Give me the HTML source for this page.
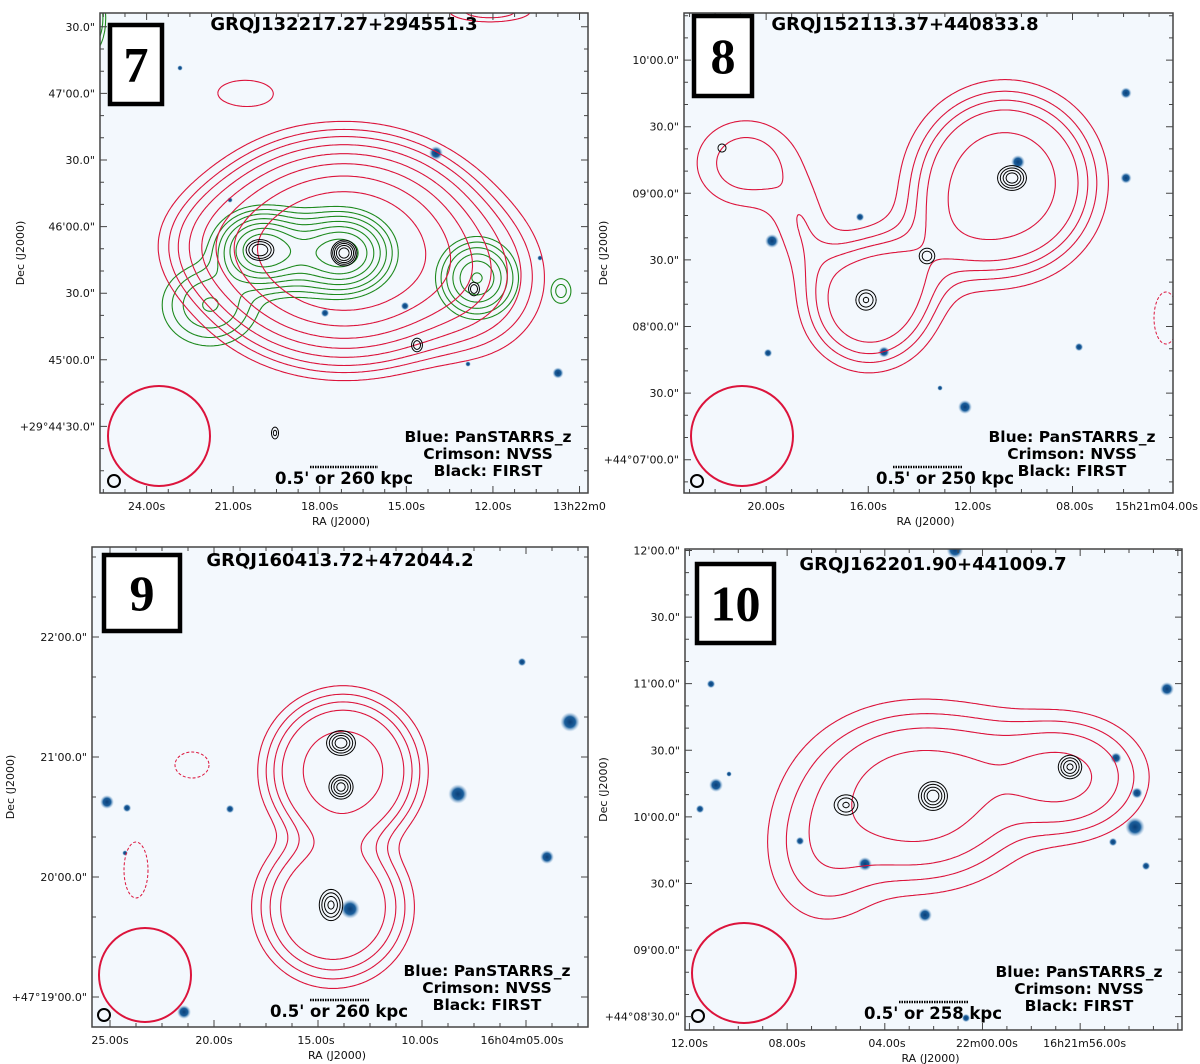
<!DOCTYPE html>
<html><head><meta charset="utf-8"><style>
html,body{margin:0;padding:0;background:#fff}
svg{display:block}
text{font-family:"DejaVu Sans","Liberation Sans",sans-serif}
</style></head><body>
<svg id="fig" width="1200" height="1064" viewBox="0 0 1200 1064" xmlns="http://www.w3.org/2000/svg"></svg>
<script>
// ---------- data ----------
const panelIds = ["7","8","9","10"];
const panelTitles = ["GRQJ132217.27+294551.3","GRQJ152113.37+440833.8","GRQJ160413.72+472044.2","GRQJ162201.90+441009.7"];
const scaleTexts = ["0.5' or 260 kpc","0.5' or 250 kpc","0.5' or 260 kpc","0.5' or 258 kpc"];
const yTickLabels7 = ["30.0\"","47'00.0\"","30.0\"","46'00.0\"","30.0\"","45'00.0\"","+29°44'30.0\""];
const yTickVals7 = [210,180,150,120,90,60,30];
const xTickLabels7 = ["24.00s","21.00s","18.00s","15.00s","12.00s","13h22m0"];
const xTickVals7 = [21,60,99,138,177,216];
const yTickLabels8 = ["10'00.0\"","30.0\"","09'00.0\"","30.0\"","08'00.0\"","30.0\"","+44°07'00.0\""];
const yTickVals8 = [195,165,135,105,75,45,15];
const xTickLabels8 = ["20.00s","16.00s","12.00s","08.00s","15h21m04.00s"];
const xTickVals8 = [37,83,130,176,222];
const yTickLabels9 = ["22'00.0\"","21'00.0\"","20'00.0\"","+47°19'00.0\""];
const yTickVals9 = [195,135,75,15];
const xTickLabels9 = ["25.00s","20.00s","15.00s","10.00s","16h04m05.00s"];
const xTickVals9 = [9,61,112,164,215];
const yTickLabels10 = ["12'00.0\"","30.0\"","11'00.0\"","30.0\"","10'00.0\"","30.0\"","09'00.0\"","+44°08'30.0\""];
const yTickVals10 = [216,186,156,126,96,66,36,6];
const xTickLabels10 = ["12.00s","08.00s","04.00s","22m00.00s","16h21m56.00s"];
const xTickVals10 = [2,46,91,136,180];

// radio components: [x, y, amp, sx, sy, p]
const nvss7 = [[244,238,1,72,55,2.4],[140,232,0.1,40,30,2],[370,268,0.1,40,40,2],[145,80,0.03,30,14,2],[390,-2,0.05,30,8,2]];
const nvssLevels7 = [0.02,0.035,0.055,0.088,0.14,0.22,0.35,0.55];
const tgss7 = [[160,237,1,22,19,2],[244,240,0.9,24,20,2],[110,292,0.3,28,24,2],[200,240,0.35,25,22,2],[377,265,0.6,20,20,2],[461,278,0.15,8,10,2],[-8,5,0.3,8,20,2]];
const tgssLevels7 = [0.07,0.12,0.19,0.29,0.42,0.58,0.78];
const first7 = [[244,240,1,6,6,2],[160,237,0.45,8,6,2],[374,276,0.25,4,5,2],[317,332,0.25,4,5,2],[175,420,0.2,3,5,2]];
const firstLevels7 = [0.1,0.17,0.28,0.45,0.7];

const nvss8 = [[321,170,1,75,75,3],[185,290,0.75,55,55,3],[250,240,0.2,40,40,2],[62,150,0.5,44,38,2],[118,215,0.32,22,34,2]];
const nvssLevels8 = [0.27,0.4,0.51,0.63,0.86];
const first8 = [[328,165,1,7,6,2],[243,243,0.4,5,5,2],[182,287,0.5,6,6,2],[38,135,0.2,4,4,2]];
const firstLevels8 = [0.12,0.25,0.45,0.7];
const neg8 = [[482,305,12,26]];

const nvss9 = [[251,224,1,52,52,3],[241,360,0.75,52,52,3]];
const nvssLevels9 = [0.11,0.2,0.31,0.45,0.8];
const first9 = [[249,196,1,7,6,2],[249,240,0.9,6,6,2],[239,358,0.8,6,8,2]];
const firstLevels9 = [0.12,0.25,0.45,0.7];
const neg9 = [[100,218,17,13],[44,323,12,28]];

const nvss10 = [[231,248,1,55,42,2],[377,228,0.75,40,30,2],[140,305,0.22,35,42,2],[300,215,0.15,40,30,2]];
const nvssLevels10 = [0.07,0.15,0.28,0.58];
const first10 = [[248,247,1,7,7,2],[385,218,0.8,6,6,2],[161,256,0.5,7,6,2]];
const firstLevels10 = [0.12,0.25,0.45,0.7];

const stars7 = [[336,140,5],[440,245,2],[305,293,3],[458,360,4],[368,351,2],[225,300,3],[130,187,2],[80,55,2]];
const stars8 = [[88,228,5],[334,149,5],[281,394,5],[200,339,4],[442,80,4],[442,165,4],[256,375,2],[395,334,3],[176,204,3],[84,340,3]];
const stars9 = [[366,247,7],[258,362,7],[478,175,7],[15,255,5],[35,261,3],[455,310,5],[92,465,5],[138,262,3],[33,306,2],[430,115,3]];
const stars10 = [[482,140,5],[270,1,6],[60,46,3],[26,135,3],[240,366,5],[281,469,3],[431,209,4],[452,244,4],[450,278,7],[428,293,3],[461,317,3],[31,236,5],[180,315,5],[44,225,2],[115,292,3],[15,260,3]];

const panels = [
 {box:[100,13,488,480], ppa:2.22, yl:yTickLabels7, yv:yTickVals7, xl:xTickLabels7, xv:xTickVals7, nv:nvss7, nl:nvssLevels7, tg:tgss7, tl:tgssLevels7, fi:first7, fl:firstLevels7, neg:[], stars:stars7,
  num:[108,23,56,83], beam:[159,436,51,50], sb:[114,481], leg:[488,437], sc:[344,478,310,378], titleX:344, titleY:30, decX:24},
 {box:[684,13,489,480], ppa:2.22, yl:yTickLabels8, yv:yTickVals8, xl:xTickLabels8, xv:xTickVals8, nv:nvss8, nl:nvssLevels8, fi:first8, fl:firstLevels8, neg:neg8, stars:stars8,
  num:[692,14,62,84], beam:[742,436,51,50], sb:[697,481], leg:[1072,437], sc:[945,478,893,962], titleX:905, titleY:30, decX:607},
 {box:[92,547,496,480], ppa:2.0, yl:yTickLabels9, yv:yTickVals9, xl:xTickLabels9, xv:xTickVals9, nv:nvss9, nl:nvssLevels9, fi:first9, fl:firstLevels9, neg:neg9, stars:stars9,
  num:[102,553,80,80], beam:[145,975,46,47], sb:[104,1015], leg:[487,971], sc:[339,1011,310,370], titleX:340, titleY:566, decX:14},
 {box:[685,549,497,481], ppa:2.22, yl:yTickLabels10, yv:yTickVals10, xl:xTickLabels10, xv:xTickVals10, nv:nvss10, nl:nvssLevels10, fi:first10, fl:firstLevels10, neg:[], stars:stars10,
  num:[695,562,81,83], beam:[744,973,52,50], sb:[698,1016], leg:[1079,972], sc:[933,1013,899,968], titleX:933, titleY:570, decX:607}
];

const NS="http://www.w3.org/2000/svg";
const svg=document.getElementById('fig');
function mk(tag,attrs,parent){const e=document.createElementNS(NS,tag);for(const k in attrs)e.setAttribute(k,attrs[k]);(parent||svg).appendChild(e);return e;}

function field(comps,x,y){let s=0;for(const c of comps){const dx=(x-c[0])/c[3],dy=(y-c[1])/c[4];const r=Math.sqrt(dx*dx+dy*dy);s+=c[2]*Math.exp(-0.5*Math.pow(r,c[5]));}return s;}
function contourPath(comps,levels,w,h,step,ox,oy){
  const nx=Math.ceil(w/step)+1, ny=Math.ceil(h/step)+1;
  const v=[];for(let j=0;j<ny;j++){const row=new Float32Array(nx);for(let i=0;i<nx;i++)row[i]=field(comps,i*step,j*step);v.push(row);}
  let d="";
  for(const L of levels){
    for(let j=0;j<ny-1;j++)for(let i=0;i<nx-1;i++){
      const a=v[j][i],b=v[j][i+1],c=v[j+1][i+1],e=v[j+1][i];
      const pts=[];
      const x0=i*step,y0=j*step;
      if((a>=L)!==(b>=L))pts.push([x0+step*(L-a)/(b-a),y0]);
      if((b>=L)!==(c>=L))pts.push([x0+step,y0+step*(L-b)/(c-b)]);
      if((e>=L)!==(c>=L))pts.push([x0+step*(L-e)/(c-e),y0+step]);
      if((a>=L)!==(e>=L))pts.push([x0,y0+step*(L-a)/(e-a)]);
      for(let k=0;k+1<pts.length;k+=2){
        d+="M"+(ox+pts[k][0]).toFixed(1)+" "+(oy+pts[k][1]).toFixed(1)+"L"+(ox+pts[k+1][0]).toFixed(1)+" "+(oy+pts[k+1][1]).toFixed(1);
      }
    }
  }
  return d;
}

mk('defs',{}).innerHTML='<radialGradient id="sg"><stop offset="0" stop-color="#0b3f78"/><stop offset="0.55" stop-color="#1b5f9c"/><stop offset="1" stop-color="#8fb6da" stop-opacity="0"/></radialGradient>';

panels.forEach((P,pi)=>{
  const [bx,by,bw,bh]=P.box;
  const g=mk('g',{});
  
  
  const clipId='clip'+pi;
  const cp=mk('clipPath',{id:clipId},g);
  mk('rect',{x:bx,y:by,width:bw,height:bh},cp);
  const bg=mk('rect',{x:bx,y:by,width:bw,height:bh,fill:'#f3f8fd'},g);
  
  
  const inner=mk('g',{'clip-path':'url(#'+clipId+')'},g);
  P.stars.forEach(s=>{
    const c=mk('circle',{cx:bx+s[0],cy:by+s[1],r:s[2]*1.4,fill:'url(#sg)'},inner);
    
    
  });
  const step=2;
  if(P.tg){const p=mk('path',{d:contourPath(P.tg,P.tl,bw,bh,step,bx,by),stroke:'#1e8a1e',fill:'none','stroke-width':1.1},inner);
    
    }
  const pn=mk('path',{d:contourPath(P.nv,P.nl,bw,bh,step,bx,by),stroke:'#dc143c',fill:'none','stroke-width':1.1},inner);
  
  
  P.neg.forEach(n=>{
    const pd=mk('ellipse',{cx:bx+n[0],cy:by+n[1],rx:n[2],ry:n[3],stroke:'#dc143c',fill:'none','stroke-width':1,'stroke-dasharray':'3 2'},inner);
    
    
  });
  const pf=mk('path',{d:contourPath(P.fi,P.fl,bw,bh,1,bx,by),stroke:'#000',fill:'none','stroke-width':1},inner);
  
  
  const be=mk('ellipse',{cx:P.beam[0],cy:P.beam[1],rx:P.beam[2],ry:P.beam[3],fill:'none',stroke:'#dc143c','stroke-width':2},g);
  
  
  const fb=mk('circle',{cx:P.sb[0],cy:P.sb[1],r:6,fill:'none',stroke:'#000','stroke-width':2},g);
  
  
  mk('rect',{x:bx,y:by,width:bw,height:bh,fill:'none',stroke:'#444','stroke-width':1.5},g);
  const yPos=v=>by+bh-v*P.ppa;
  const xPos=v=>bx+v*P.ppa;
  let td="";
  const ystep=(P.yv[0]-P.yv[1]);
  for(let v=P.yv[P.yv.length-1]-ystep;v<=P.yv[0]+ystep;v+=ystep/3){
    const y=yPos(v); if(y<by||y>by+bh)continue;
    const major=Math.abs(((v-P.yv[0])/ystep)-Math.round((v-P.yv[0])/ystep))<0.01;
    const L=major?7:4;
    td+=`M${bx} ${y}h${L}M${bx+bw} ${y}h${-L}`;
  }
  const xstep=(P.xv[1]-P.xv[0]);
  for(let v=P.xv[0]-xstep;v<=P.xv[P.xv.length-1]+xstep;v+=xstep/4){
    const x=xPos(v); if(x<bx||x>bx+bw)continue;
    const major=Math.abs(((v-P.xv[0])/xstep)-Math.round((v-P.xv[0])/xstep))<0.01;
    const L=major?7:4;
    td+=`M${x} ${by+bh}v${-L}M${x} ${by}v${L}`;
  }
  const tk=mk('path',{d:td,stroke:'#444','stroke-width':1},g);
  
  
  P.yl.forEach((lab,k)=>{
    const t=mk('text',{x:bx-5,y:yPos(P.yv[k])+4,'text-anchor':'end','font-size':11,fill:'#111'},g);
    t.textContent=lab;
    
    
  });
  P.xl.forEach((lab,k)=>{
    let x=xPos(P.xv[k]);
    const t=mk('text',{x:x,y:by+bh+17,'text-anchor':'middle','font-size':11,fill:'#111'},g);
    if(x>bx+bw-2){t.setAttribute('text-anchor','end');t.setAttribute('x',Math.min(x+30,1198));}
    t.textContent=lab;
    
    
  });
  const xa=mk('text',{x:bx+bw/2-3,y:by+bh+32,'text-anchor':'middle','font-size':11,fill:'#111'},g);
  xa.textContent='RA (J2000)';
  
  
  const yc=by+bh/2;
  const ya=mk('text',{x:P.decX,y:yc,'text-anchor':'middle','font-size':11,fill:'#111',transform:`rotate(-90 ${P.decX} ${yc})`},g);
  ya.textContent='Dec (J2000)';
  
  
  const nb=mk('rect',{x:P.num[0]+2,y:P.num[1]+2,width:P.num[2]-4,height:P.num[3]-4,fill:'#fff',stroke:'#000','stroke-width':4.5},g);
  
  
  const nt=mk('text',{x:P.num[0]+P.num[2]/2,y:P.num[1]+P.num[3]/2+17,'text-anchor':'middle','font-size':50,'font-weight':'bold',fill:'#000',style:'font-family:"Liberation Serif","DejaVu Serif",serif'},g);
  nt.textContent=panelIds[pi];
  
  
  const tt=mk('text',{x:P.titleX,y:P.titleY,'text-anchor':'middle','font-size':18,'font-weight':'bold',fill:'#000'},g);
  tt.textContent=panelTitles[pi];
  
  
  ['Blue: PanSTARRS_z','Crimson: NVSS','Black: FIRST'].forEach((s,k)=>{
    const lt=mk('text',{x:P.leg[0],y:P.leg[1]+5+k*17,'text-anchor':'middle','font-size':15.5,'font-weight':'bold',fill:'#000'},g);
    lt.textContent=s;
    
    
  });
  const sl=mk('line',{x1:P.sc[2],y1:P.sc[1]-11,x2:P.sc[3],y2:P.sc[1]-11,stroke:'#000','stroke-width':2.5,'stroke-dasharray':'1.5 1'},g);
  
  
  const st=mk('text',{x:P.sc[0],y:P.sc[1]+6,'text-anchor':'middle','font-size':16.5,'font-weight':'bold',fill:'#000'},g);
  st.textContent=scaleTexts[pi];
  
  
});
</script>
</body></html>
